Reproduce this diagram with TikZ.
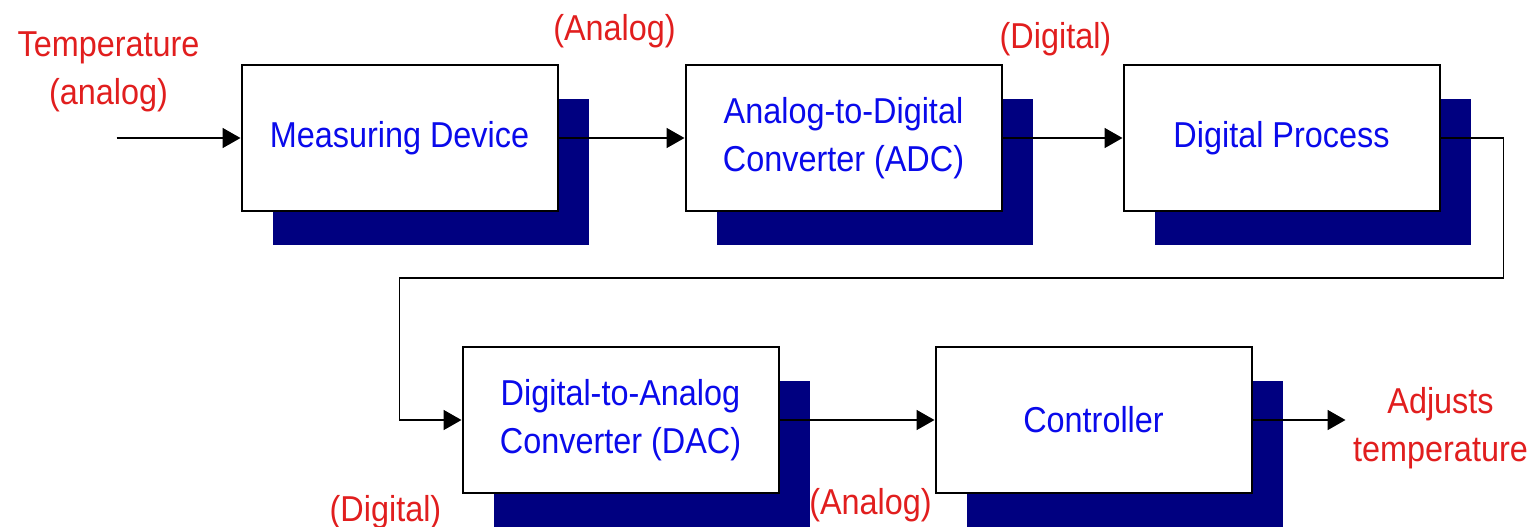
\documentclass[tikz,border=0pt]{standalone}
\usepackage{fontspec}
\setmainfont[FakeStretch=0.9]{Liberation Sans}
\usetikzlibrary{positioning,shadows,arrows.meta}
\definecolor{boxblue}{RGB}{10,10,235}
\definecolor{tagred}{RGB}{225,30,30}
\definecolor{shade}{RGB}{0,0,128}
\tikzset{
  block/.style = {draw, line width=1pt, rectangle, fill=white, minimum width=158pt, minimum height=73pt,
                  inner sep=0pt, align=center, text=boxblue, font=\fontsize{18}{24}\selectfont,
                  drop shadow={shadow xshift=15.5pt, shadow yshift=-17pt, fill=shade, opacity=1}},
  tag/.style   = {align=center, inner sep=0pt, text=tagred, font=\fontsize{18}{24}\selectfont}
}

\begin{document}
\begin{tikzpicture}[
		flow/.style={draw, line width=0.9pt, -{Triangle[length=9pt,width=10pt]}},
		node distance=63pt
	]
		\useasboundingbox (0,0) rectangle (766pt,-263pt);
		\node[block] (measure) at (199.75pt,-69pt) {Measuring Device};
		\node[block, right=63pt of measure] (adc) {Analog-to-Digital\\Converter (ADC)};
		\node[block, right=60pt of adc] (process) {Digital Process};
		\node[block, below=67pt of measure, xshift=110.5pt] (dac) {Digital-to-Analog\\Converter (DAC)};
		\node[block, right=77.5pt of dac] (ctrl) {Controller};

		\coordinate (in) at ([xshift=-62pt]measure.west);
		\coordinate (out) at ([xshift=46.5pt]ctrl.east);

		\node[tag] (temp) at ([xshift=-4pt,yshift=33pt]in) {Temperature\\(analog)};
		\node[tag] (analog-1) at ([xshift=28pt,yshift=16.5pt]measure.north east) {(Analog)};
		\node[tag] (digital-1) at ([xshift=26.5pt,yshift=12.5pt]adc.north east) {(Digital)};
		\node[tag] (digital-2) at ([xshift=-38pt,yshift=-9pt]dac.south west) {(Digital)};
		\node[tag] (analog-2) at ([xshift=45.5pt,yshift=-5.5pt]dac.south east) {(Analog)};
		\node[tag] (adjust) at ([xshift=94pt,yshift=-4pt]ctrl.east) {Adjusts\\temperature};

		\draw[flow] (in) -- (measure);
		\draw[flow] (measure) -- (adc);
		\draw[flow] (adc) -- (process);
		\draw[flow] (process.east) -- ++(31.5pt,0) |- ([xshift=-31pt,yshift=34pt]dac.north west) |- (dac.west);
		\draw[flow] (dac) -- (ctrl);
		\draw[flow] (ctrl) -- (out);
	\end{tikzpicture}
\end{document}
